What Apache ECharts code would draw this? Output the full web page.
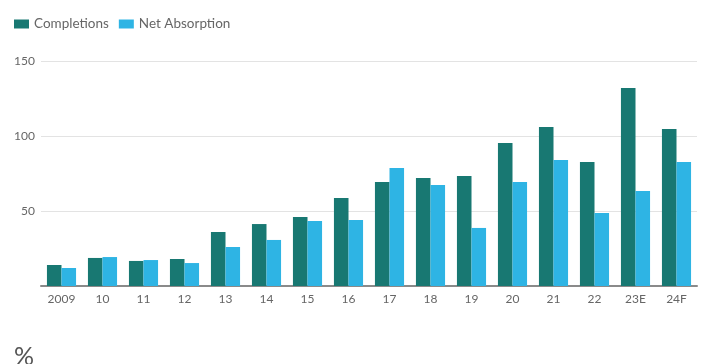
<!DOCTYPE html>
<html>
<head>
<meta charset="utf-8">
<script src="https://cdn.jsdelivr.net/npm/echarts@6/dist/echarts.min.js"></script>
<style>
  html, body { margin: 0; padding: 0; background: #fff; }
  #chart { width: 704px; height: 364px; }
</style>
</head>
<body>
<div id="chart"></div>
<script>
// Annual completions vs. net absorption
const categories = ['2009', '10', '11', '12', '13', '14', '15', '16', '17', '18', '19', '20', '21', '22', '23E', '24F'];
const completions = [14, 18.7, 16.7, 18, 36, 41.3, 46, 58.7, 69.3, 72, 73.3, 95.3, 106, 82.7, 132, 104.7];
const netAbsorption = [12, 19.3, 17.3, 15.3, 26, 30.7, 43.3, 44, 78.7, 67.3, 38.7, 69.3, 84, 48.7, 63.3, 82.7];
const yTicks = [0, 50, 100, 150];

const fontFamily = 'Lato, "Noto Sans", sans-serif';
const chart = echarts.init(document.getElementById('chart'), null, { renderer: 'canvas' });

chart.setOption({
  animation: false,
  textStyle: { fontFamily },
  legend: {
    left: 9,
    top: 12,
    itemWidth: 15,
    itemHeight: 9,
    itemGap: 10,
    icon: 'rect',
    textStyle: { color: '#666', fontSize: 13.5, fontFamily },
    data: ['Completions', 'Net Absorption']
  },
  grid: { left: 41, right: 7, top: 61, bottom: 78, containLabel: false },
  xAxis: {
    type: 'category',
    data: categories,
    axisLine: { lineStyle: { color: '#8a8a8a', width: 2 } },
    axisTick: { show: false },
    axisLabel: { color: '#666', fontSize: 12, margin: 7, fontFamily }
  },
  yAxis: {
    type: 'value',
    min: yTicks[0],
    max: yTicks[yTicks.length - 1],
    interval: 50,
    axisLine: { show: false },
    axisTick: { show: false },
    axisLabel: {
      color: '#666', fontSize: 12, margin: 6, fontFamily,
      formatter: v => (v === 0 ? '' : String(v))
    },
    splitLine: { lineStyle: { color: '#e3e3e3', width: 1 } }
  },
  series: [
    {
      name: 'Completions',
      type: 'bar',
      data: completions,
      itemStyle: { color: '#187872' },
      barGap: '0%',
      barCategoryGap: '29%'
    },
    {
      name: 'Net Absorption',
      type: 'bar',
      data: netAbsorption,
      itemStyle: { color: '#2eb4e4' }
    }
  ],
  graphic: [
    {
      type: 'text',
      left: 14,
      top: 344,
      style: { text: '%', fill: '#555', fontSize: 25, fontFamily }
    }
  ]
});
</script>
</body>
</html>
